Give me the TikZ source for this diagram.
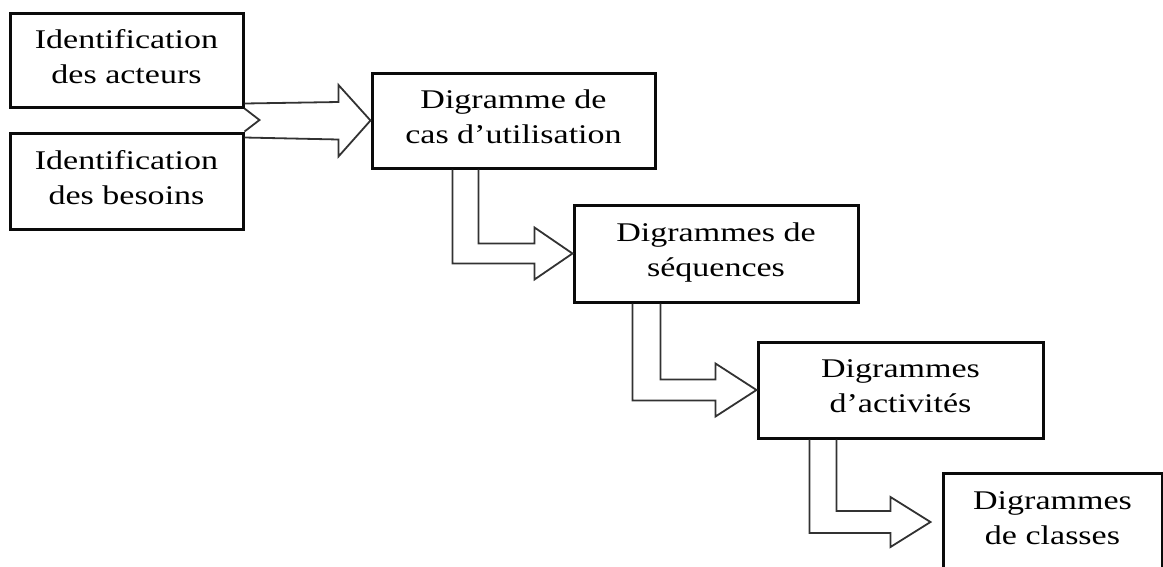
\documentclass[tikz,border=0pt]{standalone}
\usepackage{fontspec}
\setmainfont{Liberation Serif}[FakeStretch=1.26]
\usepackage{tikz}
\usetikzlibrary{calc}
\definecolor{boxline}{RGB}{10, 10, 10}
\definecolor{arrowline}{RGB}{50, 50, 50}

\begin{document}
\begin{tikzpicture}[x=1pt, y=1pt,
        diagbox/.style={draw=boxline, line width=3pt, fill=white, align=center,
                        inner sep=0pt, text depth=7pt, font=\fontsize{27}{35}\selectfont},
        fatline/.style={draw=arrowline, line width=1.8pt, line join=miter}]
    \useasboundingbox (0,0) rectangle (1163,-566);
    \node[diagbox, minimum width=233, minimum height=94] (acteurs)  at ( 126.5, -60.0) {Identification\\des acteurs};
    \node[diagbox, minimum width=233, minimum height=96] (besoins)  at ( 126.5,-181.0) {Identification\\des besoins};
    \node[diagbox, minimum width=283, minimum height=95] (cas)      at ( 513.5,-120.5) {Digramme de\\cas d’utilisation};
    \node[diagbox, minimum width=284, minimum height=97] (sequence) at ( 716.0,-253.5) {Digrammes de\\séquences};
    \node[diagbox, minimum width=285, minimum height=96] (activite) at ( 900.5,-390.0) {Digrammes\\d’activités};
    \node[diagbox, minimum width=219, minimum height=98] (classe)   at (1052.5,-522.0) {Digrammes\\de classes};
    \coordinate (classein) at ([xshift=-11pt]classe.west);

    \draw[fatline] ([yshift=5pt]acteurs.south east) -- ([xshift=-32pt,yshift=18.5pt]cas.west) -- ++(0,17)
                   -- (cas.west) -- ++(-32,-36) -- ++(0,17) -- ([yshift=-6pt]besoins.north east);
    \draw[fatline] (acteurs.south east) -- ($(acteurs.south east)!.5!(besoins.north east)+(15,0)$) -- (besoins.north east);
    \draw[fatline] ([xshift=108pt]cas.south west) |- ([xshift=-38pt,yshift=10pt]sequence.west) -- ++(0,16)
                   -- (sequence.west) -- ++(-38,-26) -- ++(0,16) -| ([xshift=82pt]cas.south west);
    \draw[fatline] ([xshift=88pt]sequence.south west) |- ([xshift=-41pt,yshift=10.5pt]activite.west) -- ++(0,16)
                   -- (activite.west) -- ++(-41,-26.5) -- ++(0,16) -| ([xshift=60pt]sequence.south west);
    \draw[fatline] ([xshift=80pt]activite.south west) |- ([xshift=-40pt,yshift=11pt]classein) -- ++(0,14)
                   -- (classein) -- ++(-40,-25) -- ++(0,14) -| ([xshift=53pt]activite.south west);
\end{tikzpicture}
\end{document}
